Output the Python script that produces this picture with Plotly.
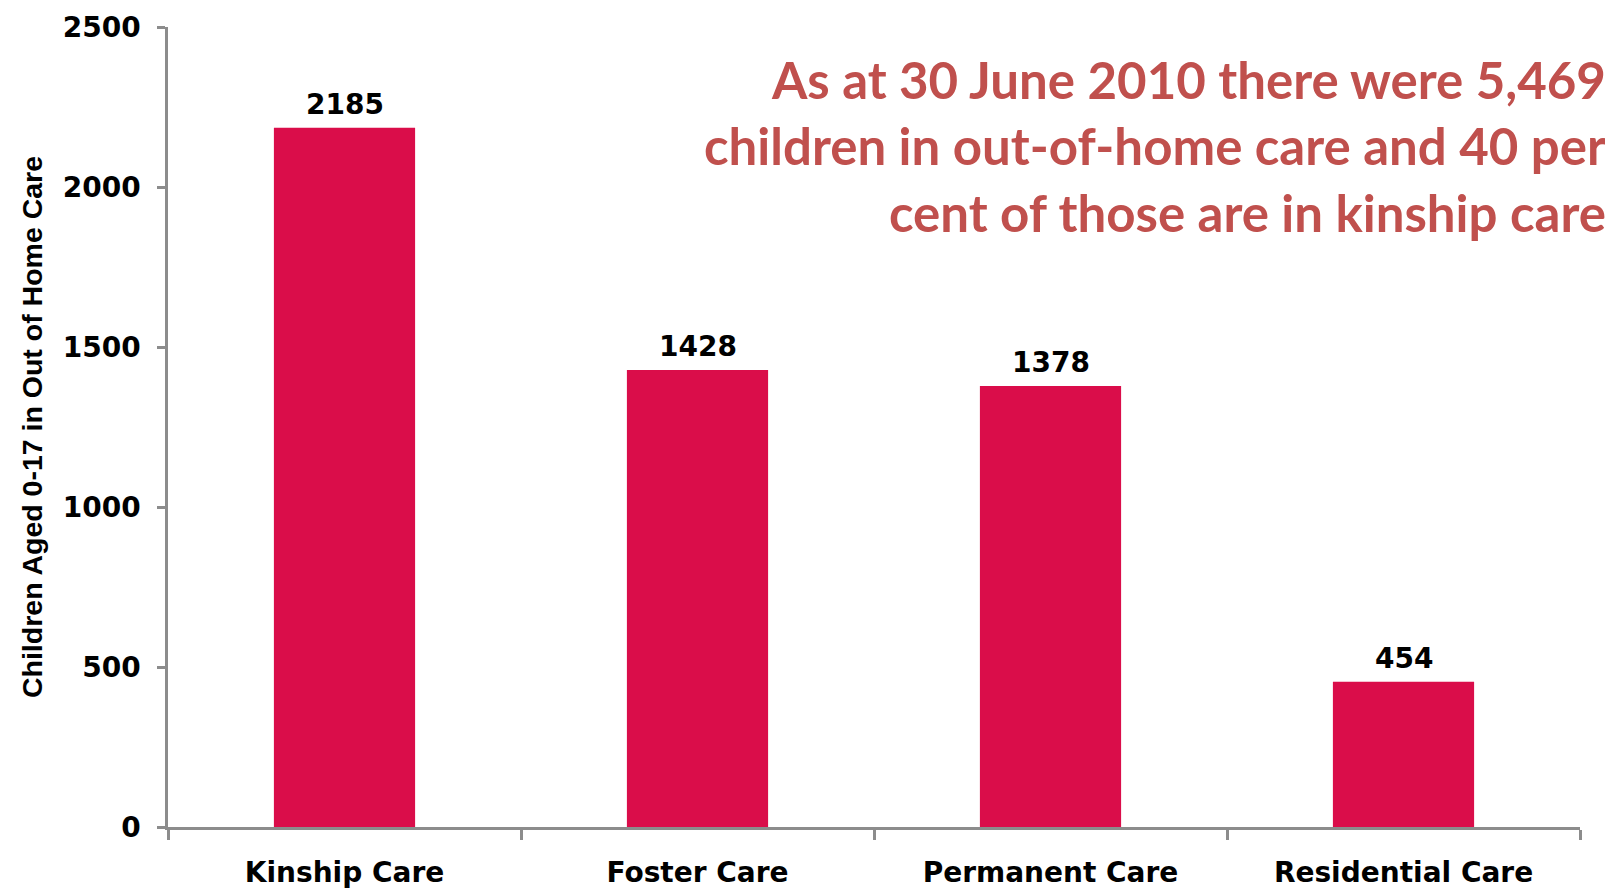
import plotly.graph_objects as go

categories = ["Kinship Care", "Foster Care", "Permanent Care", "Residential Care"]
children = [2185, 1428, 1378, 454]
y_ticks = [0, 500, 1000, 1500, 2000, 2500]
y_title = "Children Aged 0-17 in Out of Home Care"
note_lines = [
    "As at 30 June 2010 there were 5,469",
    "children in out-of-home care and 40 per",
    "cent of those are in kinship care",
]

BAR = "#DA0D4A"
AXIS = "#8C8C8C"
NOTE = "#C0504D"

fig = go.Figure()
fig.add_trace(go.Bar(
    x=categories, y=children, marker=dict(color=BAR, line=dict(width=0)),
    width=0.4, hoverinfo="x+y", showlegend=False,
))

for c, v in zip(categories, children):
    fig.add_annotation(
        x=c, y=v, xref="x", yref="y", text=str(v), showarrow=False,
        yanchor="bottom", yshift=5,
        font=dict(family="DejaVu Sans", size=28, color="black", weight="bold"),
    )

fig.add_annotation(
    x=1.020, y=0.975, xref="paper", yref="paper", xanchor="right", yanchor="top",
    align="right", showarrow=False, text="<br>".join(note_lines),
    font=dict(family="Lato", size=51, color=NOTE, weight="bold"),
)

fig.update_layout(
    width=1605, height=881,
    margin=dict(l=160, r=33, t=19, b=62, autoexpand=False),
    paper_bgcolor="white", plot_bgcolor="white",
    bargap=0.6,
)
fig.update_xaxes(
    type="category", range=[-0.5, 3.5], automargin=False,
    showline=True, linecolor=AXIS, linewidth=2.5,
    ticks="outside", tickson="boundaries", ticklen=10, tickwidth=2.5, tickcolor=AXIS,
    tickfont=dict(family="DejaVu Sans", size=28, color="black", weight="bold"),
    ticklabelstandoff=19,
    showgrid=False, zeroline=False,
)
fig.update_yaxes(
    range=[0, 2500], tickvals=y_ticks, ticktext=[str(t) for t in y_ticks],
    automargin=False,
    showline=True, linecolor=AXIS, linewidth=2.5,
    ticks="outside", ticklen=8, tickwidth=2.5, tickcolor=AXIS,
    tickfont=dict(family="DejaVu Sans", size=28, color="black", weight="bold"),
    ticklabelstandoff=11,
    showgrid=False, zeroline=False,
    title=dict(text=y_title, standoff=12,
               font=dict(family="Liberation Sans", size=28.5, color="black", weight="bold")),
)

fig.write_html("out.html")
